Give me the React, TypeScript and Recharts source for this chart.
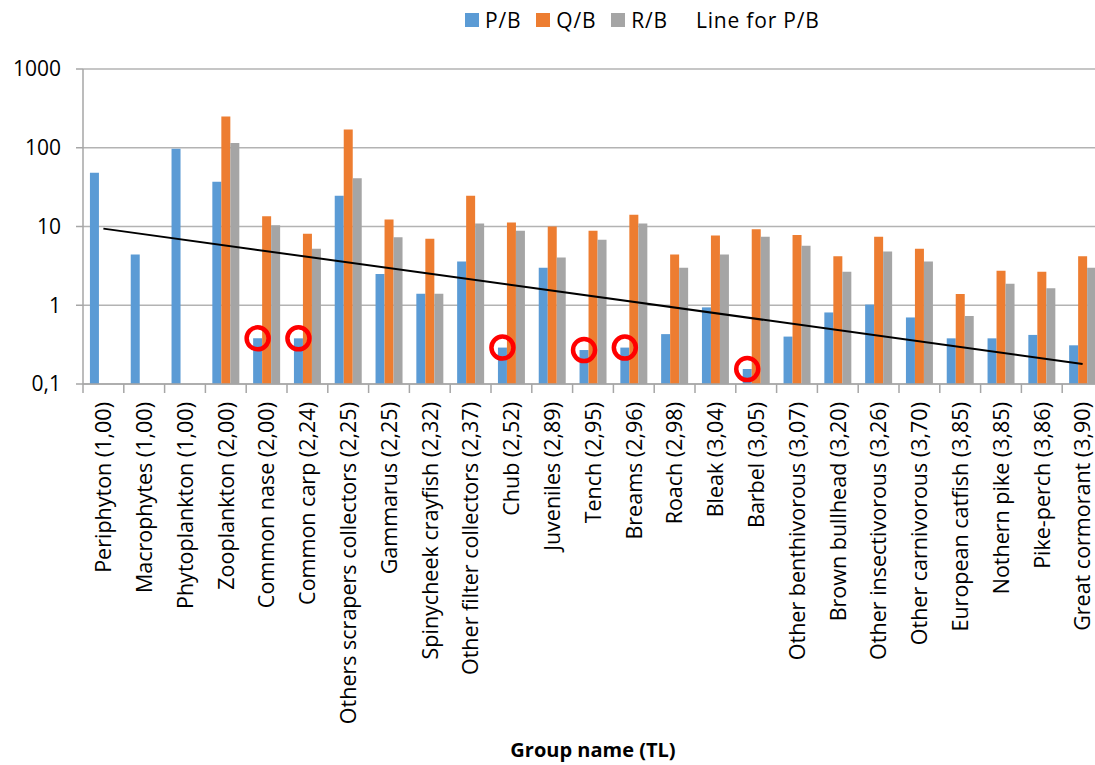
import { Bar, BarChart, CartesianGrid, Legend, ReferenceLine, XAxis, YAxis } from "recharts";

const groups = [
  "Periphyton (1,00)",
  "Macrophytes (1,00)",
  "Phytoplankton (1,00)",
  "Zooplankton (2,00)",
  "Common nase (2,00)",
  "Common carp (2,24)",
  "Others scrapers collectors (2,25)",
  "Gammarus (2,25)",
  "Spinycheek crayfish (2,32)",
  "Other filter collectors (2,37)",
  "Chub (2,52)",
  "Juveniles (2,89)",
  "Tench (2,95)",
  "Breams (2,96)",
  "Roach (2,98)",
  "Bleak (3,04)",
  "Barbel (3,05)",
  "Other benthivorous (3,07)",
  "Brown bullhead (3,20)",
  "Other insectivorous (3,26)",
  "Other carnivorous (3,70)",
  "European catfish (3,85)",
  "Nothern pike (3,85)",
  "Pike-perch (3,86)",
  "Great cormorant (3,90)",
];

const pb = [48, 4.4, 97, 37, 0.38, 0.38, 24.5, 2.5, 1.4, 3.6, 0.29, 3.0, 0.27, 0.29, 0.43, 0.94, 0.155, 0.4, 0.81, 1.02, 0.7, 0.38, 0.38, 0.42, 0.31];
const qb = [null, null, null, 250, 13.5, 8.1, 170, 12.3, 7.0, 24.5, 11.2, 10.0, 8.8, 14.1, 4.4, 7.7, 9.2, 7.8, 4.2, 7.4, 5.2, 1.39, 2.75, 2.67, 4.2];
const rb = [null, null, null, 115, 10.4, 5.2, 41, 7.3, 1.4, 10.9, 8.8, 4.05, 6.8, 10.9, 3.0, 4.4, 7.4, 5.7, 2.67, 4.8, 3.6, 0.73, 1.88, 1.64, 3.0];

// groups whose P/B bar is ringed in red
const highlighted = ["Common nase (2,00)", "Common carp (2,24)", "Chub (2,52)", "Tench (2,95)", "Breams (2,96)", "Barbel (3,05)"];

// exponential trend for P/B, read at the first and last group
const trendStart = 9.4;
const trendEnd = 0.18;

const yTicks = [0.1, 1, 10, 100, 1000];

const legendItems = [
  { label: "P/B", color: "#5b9bd5" },
  { label: "Q/B", color: "#ed7d31" },
  { label: "R/B", color: "#a5a5a5" },
];

const data = groups.map((name, i) => ({
  name,
  pb: pb[i],
  qb: qb[i],
  rb: rb[i],
  pbMark: highlighted.includes(name) ? pb[i] : null,
}));

const font = "'Open Sans', 'Noto Sans', sans-serif";
const axisGray = "#a6a6a6";

function GroupTick(props: any) {
  const { x, y, payload, index } = props;
  const off = payload.offset ?? 0;
  return (
    <g transform={`translate(${x},${y})`}>
      <line x1={-off} x2={-off} y1={0} y2={9} stroke={axisGray} strokeWidth={1.5} />
      {index === groups.length - 1 && (
        <line x1={off} x2={off} y1={0} y2={9} stroke={axisGray} strokeWidth={1.5} />
      )}
      <text
        transform="rotate(-90)"
        x={-18}
        y={0}
        dy="0.36em"
        textAnchor="end"
        fontFamily={font}
        fontSize={21.5}
        fill="#000"
      >
        {payload.value}
      </text>
    </g>
  );
}

function Ring(props: any) {
  const { x, y, width } = props;
  if (x == null || y == null) return null;
  return <circle cx={x + width / 2} cy={y} r={11} fill="none" stroke="#ff0000" strokeWidth={4.5} />;
}

function ChartLegend() {
  return (
    <div
      style={{
        height: 40,
        display: "flex",
        alignItems: "center",
        paddingLeft: 465,
        fontFamily: font,
        fontSize: 21,
        letterSpacing: 0.8,
        color: "#000",
      }}
    >
      {legendItems.map((item) => (
        <div key={item.label} style={{ display: "flex", alignItems: "center", marginRight: 15 }}>
          <span style={{ width: 14, height: 14, background: item.color, marginRight: 6 }} />
          <span>{item.label}</span>
        </div>
      ))}
      <span style={{ marginLeft: 13 }}>Line for P/B</span>
    </div>
  );
}

export default function App() {
  return (
    <div style={{ position: "absolute", left: 0, top: 0, width: 1095, height: 765, overflow: "hidden", background: "#fff" }}>
      <BarChart
        width={1110}
        height={765}
        data={data}
        margin={{ top: 29, right: 7, bottom: 0, left: 0 }}
        barCategoryGap="17%"
        barGap={0}
      >
        <Legend
          verticalAlign="top"
          content={<ChartLegend />}
          wrapperStyle={{ top: 0, left: 0, width: 1095 }}
        />
        <CartesianGrid vertical={false} stroke="#b3b3b3" strokeWidth={1.5} />
        <XAxis
          dataKey="name"
          interval={0}
          height={381}
          tickLine={false}
          tickSize={0}
          tickMargin={0}
          axisLine={{ stroke: axisGray, strokeWidth: 1.5 }}
          tick={(p: any) => <GroupTick {...p} />}
          label={{
            value: "Group name (TL)",
            position: "insideBottom",
            offset: 8,
            fontFamily: font,
            fontWeight: 700,
            fontSize: 20,
            fill: "#000",
          }}
        />
        <XAxis xAxisId="mark" dataKey="name" hide />
        <YAxis
          type="number"
          scale="log"
          domain={[0.1, 1000]}
          ticks={yTicks}
          width={83}
          interval={0}
          tickFormatter={(v: number) => String(v).replace(".", ",")}
          tick={{ fontFamily: font, fontSize: 21, fill: "#000" }}
          tickSize={7}
          tickMargin={15}
          tickLine={{ stroke: axisGray, strokeWidth: 1.5 }}
          axisLine={{ stroke: axisGray, strokeWidth: 1.5 }}
          allowDataOverflow
        />
        <Bar dataKey="pb" fill={legendItems[0].color} isAnimationActive={false} />
        <Bar dataKey="qb" fill={legendItems[1].color} isAnimationActive={false} />
        <Bar dataKey="rb" fill={legendItems[2].color} isAnimationActive={false} />
        <ReferenceLine
          segment={[
            { x: groups[0], y: trendStart },
            { x: groups[groups.length - 1], y: trendEnd },
          ]}
          stroke="#000"
          strokeWidth={2}
        />
        <Bar xAxisId="mark" dataKey="pbMark" shape={(p: any) => <Ring {...p} />} isAnimationActive={false} />
        <Bar xAxisId="mark" dataKey="markGap1" isAnimationActive={false} />
        <Bar xAxisId="mark" dataKey="markGap2" isAnimationActive={false} />
      </BarChart>
    </div>
  );
}
